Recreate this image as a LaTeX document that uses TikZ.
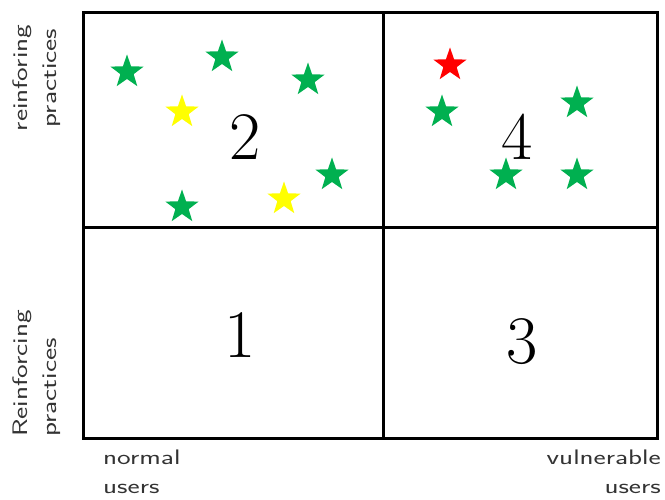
\documentclass[tikz,border=0pt]{standalone}
\usepackage{fontspec}
\newfontfamily\handfont{Latin Modern Sans}[FakeStretch=1.38]
\usetikzlibrary{shapes.geometric}
\definecolor{stargreen}{HTML}{00B050}
\definecolor{staryellow}{HTML}{FFFF00}
\definecolor{starred}{HTML}{FF0000}
\definecolor{labelgray}{HTML}{333333}
\tikzset{
  quad/.style={draw=black, line width=3pt, inner sep=0pt},
  digit/.style={font=\fontsize{68}{70}\selectfont, inner sep=0pt},
  axislabel/.style={font=\handfont\fontsize{21}{29}\selectfont, text=labelgray, inner sep=0pt},
  starmark/.style={star, star points=5, star point ratio=2.5, minimum size=35pt, inner sep=0pt, draw=none, fill=#1}
}
\begin{document}
\begin{tikzpicture}[x=1pt,y=-1pt]
\useasboundingbox (0,0) rectangle (665,500);
% quadrants
\node[quad, minimum width=300pt, minimum height=215pt] (q2) at (233,120) {};
\node[quad, minimum width=274pt, minimum height=215pt] (q4) at (520,120) {};
\node[quad, minimum width=300pt, minimum height=211pt] (q1) at (233,333) {};
\node[quad, minimum width=274pt, minimum height=211pt] (q3) at (520,333) {};
% digits
\node[digit] (n2) at (245,137) {2};
\node[digit] (n4) at (517,137) {4};
\node[digit] (n1) at (240,335) {1};
\node[digit] (n3) at (522,342) {3};
% stars quadrant 2
\node[starmark=stargreen] (s1) at (127,72) {};
\node[starmark=stargreen] (s2) at (222,57) {};
\node[starmark=stargreen] (s3) at (308,80) {};
\node[starmark=staryellow] (s4) at (182,112) {};
\node[starmark=stargreen] (s5) at (332,175) {};
\node[starmark=staryellow] (s6) at (284,199) {};
\node[starmark=stargreen] (s7) at (182,207) {};
% stars quadrant 4
\node[starmark=starred] (s8) at (450,65) {};
\node[starmark=stargreen] (s9) at (442,112) {};
\node[starmark=stargreen] (s10) at (577,103) {};
\node[starmark=stargreen] (s11) at (506,175) {};
\node[starmark=stargreen] (s12) at (577,175) {};
% axis labels
\node[axislabel, rotate=90, align=center] (ltop) at (37,78) {reinforing\\practices};
\node[axislabel, rotate=90, align=left, anchor=west] (lbot) at (37,437) {Reinforcing\\practices};
\node[axislabel, align=left, anchor=north west] (lnorm) at (103,450) {normal\\users};
\node[axislabel, align=right, anchor=north east] (lvul) at (661,450) {vulnerable\\users};
\end{tikzpicture}
\end{document}
